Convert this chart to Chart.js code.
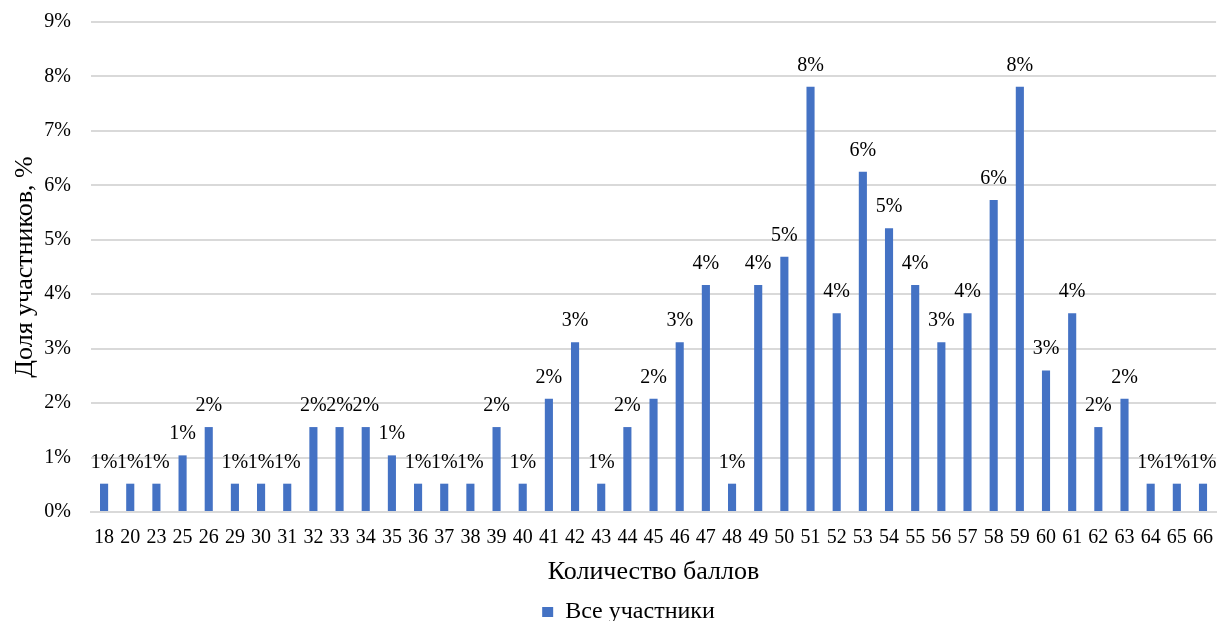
<!DOCTYPE html>
<html>
<head>
<meta charset="utf-8">
<script src="https://cdn.jsdelivr.net/npm/chart.js@4/dist/chart.umd.min.js"></script>
<style>
  html, body { margin: 0; padding: 0; background: #fff; }
  #wrap { width: 1227px; height: 621px; }
</style>
</head>
<body>
<div id="wrap"><canvas id="grafico-baly"></canvas></div>
<script>
// баллы и доли участников (%)
var baly = ['18','20','23','25','26','29','30','31','32','33','34','35','36','37','38','39','40',
	'41','42','43','44','45','46','47','48','49','50','51','52','53','54','55','56','57','58','59',
	'60','61','62','63','64','65','66'];
var doli = [0.52, 0.52, 0.52, 1.04, 1.56, 0.52, 0.52, 0.52, 1.56, 1.56, 1.56, 1.04, 0.52, 0.52, 0.52, 1.56, 0.52,
	2.08, 3.12, 0.52, 1.56, 2.08, 3.12, 4.17, 0.52, 4.17, 4.69, 7.81, 3.65, 6.25, 5.21, 4.17, 3.12, 3.65, 5.73, 7.81,
	2.60, 3.65, 1.56, 2.08, 0.52, 0.52, 0.52];
var nazvanie = 'Все участники';
var yMax = 9;

var shrift = '"Liberation Serif", "Times New Roman", serif';

// подписи над столбцами
var podpisi = {
	id: 'podpisi',
	afterDatasetsDraw: function(chart) {
		var ctx = chart.ctx;
		var meta = chart.getDatasetMeta(0);
		ctx.save();
		ctx.font = '20px ' + shrift;
		ctx.fillStyle = '#000';
		ctx.textAlign = 'center';
		ctx.textBaseline = 'alphabetic';
		meta.data.forEach(function(bar, i) {
			ctx.fillText(Math.round(doli[i]) + '%', bar.x, bar.y - 16);
		});
		ctx.restore();
	}
};

// легенда чуть правее центра, как в исходнике
var sdvigLegendy = {
	id: 'sdvigLegendy',
	afterLayout: function(chart) {
		if (chart.legend) {
			chart.legend.left += 15;
			chart.legend.right += 15;
		}
	}
};

var ctx = document.getElementById('grafico-baly');
var grafico = new Chart(ctx, {
	type: 'bar',
	data: {
		labels: baly,
		datasets: [{
			label: nazvanie,
			data: doli,
			backgroundColor: '#4472C4',
			borderWidth: 0,
			categoryPercentage: 1,
			barPercentage: 0.31
		}]
	},
	options: {
		responsive: true,
		maintainAspectRatio: false,
		animation: false,
		layout: { padding: { top: 22, right: 0, left: 0, bottom: -13 } },
		plugins: {
			tooltip: { enabled: false },
			legend: {
				position: 'bottom',
				labels: {
					color: '#000',
					font: { family: shrift, size: 24, lineHeight: 1 },
					boxWidth: 11,
					boxHeight: 10,
					padding: 0
				}
			}
		},
		scales: {
			x: {
				grid: { display: false, drawTicks: false },
				border: { display: true, color: '#D9D9D9', width: 2 },
				ticks: {
					color: '#000',
					font: { family: shrift, size: 20 },
					padding: 14,
					maxRotation: 0,
					autoSkip: false
				},
				title: {
					display: true,
					text: 'Количество баллов',
					color: '#000',
					font: { family: shrift, size: 26 },
					padding: { top: 0, bottom: 12 }
				},
				afterFit: function(scale) { scale.height = 88; }
			},
			y: {
				min: 0,
				max: yMax,
				grid: { color: '#D9D9D9', lineWidth: 2, drawTicks: false },
				border: { display: false },
				ticks: {
					stepSize: 1,
					color: '#000',
					font: { family: shrift, size: 20 },
					padding: 20,
					callback: function(v) { return v + '%'; }
				},
				title: {
					display: true,
					text: 'Доля участников, %',
					color: '#000',
					font: { family: shrift, size: 26 },
					padding: { top: 10, bottom: 0 }
				},
				afterFit: function(scale) {
					scale.width = 91;
					scale.paddingTop = 0;
				}
			}
		}
	},
	plugins: [podpisi, sdvigLegendy]
});
</script>
</body>
</html>
